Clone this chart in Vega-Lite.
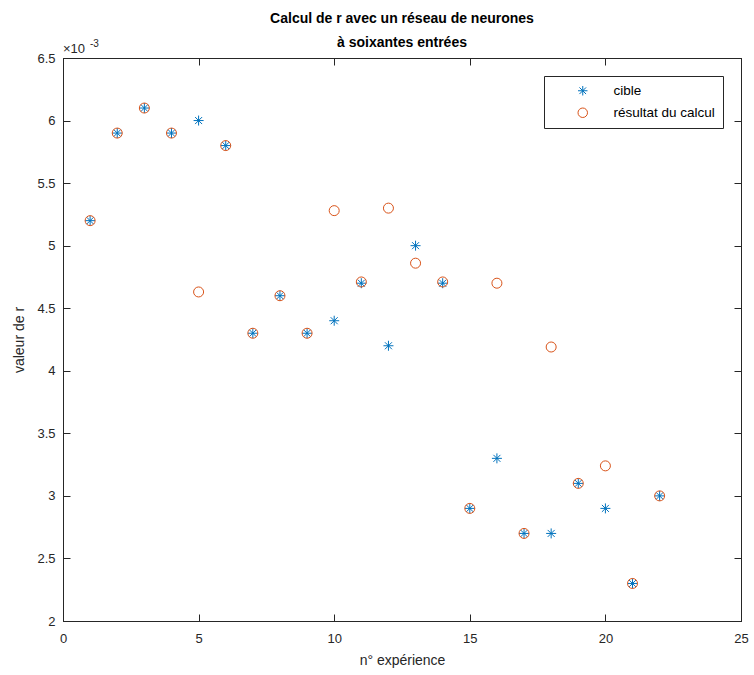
{
  "$schema": "https://vega.github.io/schema/vega-lite/v6.json",
  "width": 678,
  "height": 563,
  "autosize": {"type": "none"},
  "padding": {"left": 63, "top": 58, "right": 13, "bottom": 54},
  "background": "white",
  "title": {
    "text": ["Calcul de r avec un réseau de neurones", "à soixantes entrées"],
    "font": "Liberation Sans",
    "fontSize": 14,
    "fontWeight": "bold",
    "color": "black",
    "lineHeight": 24,
    "offset": -11,
    "anchor": "middle"
  },
  "config": {
    "view": {"stroke": "#262626", "strokeWidth": 1},
    "axis": {
      "grid": false,
      "domainColor": "#262626",
      "tickColor": "#262626",
      "labelColor": "#262626",
      "titleColor": "#262626",
      "labelFont": "Liberation Sans",
      "titleFont": "Liberation Sans",
      "labelFontSize": 13,
      "titleFontSize": 14,
      "titleFontWeight": "normal",
      "ticks": true,
      "tickSize": -7,
      "tickWidth": 1,
      "zindex": 1,
      "labelFlush": false
    },
    "legend": {
      "labelFont": "Liberation Sans",
      "labelFontSize": 13.5,
      "labelColor": "black"
    }
  },
  "layer": [
    {
      "data": {
        "values": [
          {"n": 1, "serie": "cible", "r": 0.0052},
          {"n": 2, "serie": "cible", "r": 0.0059},
          {"n": 3, "serie": "cible", "r": 0.0061},
          {"n": 4, "serie": "cible", "r": 0.0059},
          {"n": 5, "serie": "cible", "r": 0.0060},
          {"n": 6, "serie": "cible", "r": 0.0058},
          {"n": 7, "serie": "cible", "r": 0.0043},
          {"n": 8, "serie": "cible", "r": 0.0046},
          {"n": 9, "serie": "cible", "r": 0.0043},
          {"n": 10, "serie": "cible", "r": 0.0044},
          {"n": 11, "serie": "cible", "r": 0.0047},
          {"n": 12, "serie": "cible", "r": 0.0042},
          {"n": 13, "serie": "cible", "r": 0.0050},
          {"n": 14, "serie": "cible", "r": 0.0047},
          {"n": 15, "serie": "cible", "r": 0.0029},
          {"n": 16, "serie": "cible", "r": 0.0033},
          {"n": 17, "serie": "cible", "r": 0.0027},
          {"n": 18, "serie": "cible", "r": 0.0027},
          {"n": 19, "serie": "cible", "r": 0.0031},
          {"n": 20, "serie": "cible", "r": 0.0029},
          {"n": 21, "serie": "cible", "r": 0.0023},
          {"n": 22, "serie": "cible", "r": 0.0030},
          {"n": 1, "serie": "résultat du calcul", "r": 0.0052},
          {"n": 2, "serie": "résultat du calcul", "r": 0.0059},
          {"n": 3, "serie": "résultat du calcul", "r": 0.0061},
          {"n": 4, "serie": "résultat du calcul", "r": 0.0059},
          {"n": 5, "serie": "résultat du calcul", "r": 0.00463},
          {"n": 6, "serie": "résultat du calcul", "r": 0.0058},
          {"n": 7, "serie": "résultat du calcul", "r": 0.0043},
          {"n": 8, "serie": "résultat du calcul", "r": 0.0046},
          {"n": 9, "serie": "résultat du calcul", "r": 0.0043},
          {"n": 10, "serie": "résultat du calcul", "r": 0.00528},
          {"n": 11, "serie": "résultat du calcul", "r": 0.00471},
          {"n": 12, "serie": "résultat du calcul", "r": 0.0053},
          {"n": 13, "serie": "résultat du calcul", "r": 0.00486},
          {"n": 14, "serie": "résultat du calcul", "r": 0.00471},
          {"n": 15, "serie": "résultat du calcul", "r": 0.0029},
          {"n": 16, "serie": "résultat du calcul", "r": 0.0047},
          {"n": 17, "serie": "résultat du calcul", "r": 0.0027},
          {"n": 18, "serie": "résultat du calcul", "r": 0.00419},
          {"n": 19, "serie": "résultat du calcul", "r": 0.0031},
          {"n": 20, "serie": "résultat du calcul", "r": 0.00324},
          {"n": 21, "serie": "résultat du calcul", "r": 0.0023},
          {"n": 22, "serie": "résultat du calcul", "r": 0.0030}
        ]
      },
      "layer": [
        {
          "mark": {"type": "point", "filled": false, "strokeWidth": 1, "size": 100, "opacity": 1},
          "encoding": {
            "x": {
              "field": "n", "type": "quantitative",
              "scale": {"domain": [0, 25], "nice": false, "zero": false},
              "axis": {"values": [0, 5, 10, 15, 20, 25], "title": "n° expérience", "labelPadding": 18, "titlePadding": 8}
            },
            "y": {
              "field": "r", "type": "quantitative",
              "scale": {"domain": [0.002, 0.0065], "nice": false, "zero": false},
              "axis": {
                "values": [0.002, 0.0025, 0.003, 0.0035, 0.004, 0.0045, 0.005, 0.0055, 0.006, 0.0065],
                "labelExpr": "format(datum.value * 1000, '~g')",
                "title": "valeur de r",
                "labelPadding": 15,
                "titlePadding": 10
              }
            },
            "color": {
              "field": "serie", "type": "nominal",
              "scale": {"domain": ["cible", "résultat du calcul"], "range": ["#0072BD", "#D95319"]},
              "legend": {
                "title": null,
                "orient": "top-right",
                "offset": 18,
                "strokeColor": "#262626",
                "fillColor": "white",
                "padding": 8,
                "symbolOffset": 24,
                "labelOffset": 24,
                "rowPadding": 7,
                "symbolStrokeWidth": 1,
                "symbolSize": 90
              }
            },
            "shape": {
              "field": "serie", "type": "nominal",
              "scale": {"domain": ["cible", "résultat du calcul"], "range": ["M-1,0L1,0M0,-1L0,1M-0.7,-0.7L0.7,0.7M-0.7,0.7L0.7,-0.7", "circle"]},
              "legend": null
            }
          }
        },
        {
          "mark": {"type": "point", "opacity": 0},
          "encoding": {
            "x": {"field": "n", "type": "quantitative", "axis": {"orient": "top", "labels": false, "title": null, "values": [0, 5, 10, 15, 20, 25]}},
            "y": {"field": "r", "type": "quantitative", "axis": {"orient": "right", "labels": false, "title": null, "values": [0.002, 0.0025, 0.003, 0.0035, 0.004, 0.0045, 0.005, 0.0055, 0.006, 0.0065]}}
          }
        }
      ],
      "resolve": {"axis": {"x": "independent", "y": "independent"}}
    },
    {
      "data": {"values": [{"label": "×10"}]},
      "mark": {"type": "text", "align": "left", "baseline": "alphabetic", "dy": -5, "font": "Liberation Sans", "fontSize": 13, "color": "#262626"},
      "encoding": {
        "x": {"datum": 0, "axis": null},
        "y": {"datum": 0.0065, "axis": null},
        "text": {"field": "label"}
      }
    },
    {
      "data": {"values": [{"label": "-3"}]},
      "mark": {"type": "text", "align": "left", "baseline": "alphabetic", "dx": 27, "dy": -11, "font": "Liberation Sans", "fontSize": 10, "color": "#262626"},
      "encoding": {
        "x": {"datum": 0, "axis": null},
        "y": {"datum": 0.0065, "axis": null},
        "text": {"field": "label"}
      }
    }
  ]
}
